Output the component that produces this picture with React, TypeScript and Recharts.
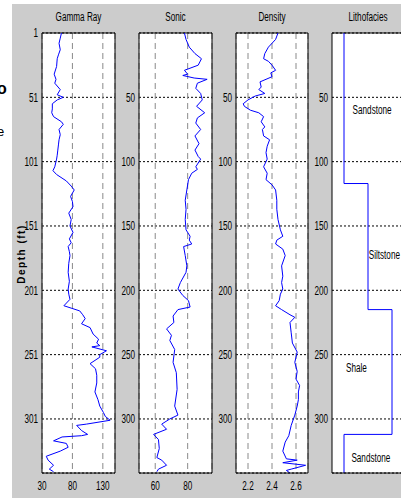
import React from 'react';
import { LineChart, Line, XAxis, YAxis, CartesianGrid, ReferenceLine, ReferenceDot } from 'recharts';

// [depth (ft), value]
const gammaRay: [number, number][] = [
  [1, 62], [5, 60], [9, 58], [14, 60], [18, 57], [21, 55], [27, 54], [33, 50], [37, 53], [40, 51],
  [45, 60], [49, 55], [51, 65], [53, 55], [56, 47], [60, 47], [63, 46], [66, 49], [70, 62], [72, 65],
  [76, 58], [80, 60], [84, 58], [88, 57], [92, 56], [96, 55], [99, 54], [105, 51], [108, 48], [111, 54],
  [116, 70], [120, 78], [123, 83], [128, 77], [132, 80], [136, 81], [141, 74], [146, 78], [151, 76], [156, 81],
  [161, 75], [164, 78], [167, 73], [171, 75], [174, 76], [180, 74], [187, 73], [194, 75], [200, 73], [204, 74],
  [208, 76], [213, 66], [215, 79], [217, 92], [220, 97], [223, 101], [227, 95], [230, 109], [235, 114], [239, 123],
  [242, 120], [244, 125], [245, 112], [248, 136], [251, 125], [253, 125], [258, 109], [262, 118], [267, 120], [273, 120],
  [280, 117], [286, 122], [291, 125], [296, 131], [299, 134], [302, 142], [305, 103], [306, 87], [310, 95], [313, 105],
  [314, 95], [315, 63], [318, 49], [320, 70], [323, 73], [326, 60], [330, 37], [333, 40], [337, 49], [340, 42], [342, 49],
];

const sonic: [number, number][] = [
  [0, 78], [5, 79], [11, 81], [16, 84.5], [20, 88.5], [25, 86.5], [29, 78], [32, 80], [33, 77], [35, 84],
  [36, 92], [39, 86], [43, 85], [47, 88], [52, 89], [57, 85.5], [62, 90.5], [66, 86], [70, 85], [75, 88],
  [80, 84.5], [86, 87], [91, 84.5], [96, 86.5], [98, 88], [104, 85], [106, 86], [109, 82.5], [114, 80.5], [122, 79.5],
  [130, 78.5], [137, 79], [145, 78.5], [153, 79], [158, 81.5], [161, 81], [164, 82.5], [166, 77.5], [173, 78.5], [181, 79.5],
  [186, 79], [194, 75.5], [199, 74], [204, 77], [208, 80.5], [213, 81.5], [215, 74], [220, 71], [225, 71.5], [230, 67],
  [235, 70], [239, 69], [246, 72], [256, 71], [264, 73], [277, 73.5], [290, 72], [297, 74], [300, 69], [304, 64],
  [308, 67], [312, 59], [316, 62], [323, 62.5], [330, 61], [332, 64], [336, 67], [339, 62], [341, 61],
];

const density: [number, number][] = [
  [0, 2.45], [5, 2.43], [11, 2.37], [16, 2.34], [20, 2.33], [22, 2.37], [25, 2.4], [29, 2.43], [31, 2.39], [34, 2.4],
  [38, 2.3], [42, 2.31], [44, 2.29], [47, 2.34], [49, 2.26], [52, 2.2], [55, 2.16], [57, 2.17], [60, 2.22], [62, 2.29],
  [65, 2.33], [69, 2.31], [73, 2.34], [75, 2.32], [80, 2.33], [83, 2.38], [88, 2.36], [93, 2.35], [98, 2.36], [104, 2.33],
  [109, 2.36], [114, 2.35], [118, 2.4], [122, 2.43], [130, 2.44], [137, 2.44], [145, 2.45], [153, 2.47], [158, 2.49], [161, 2.44],
  [164, 2.43], [168, 2.49], [173, 2.51], [181, 2.48], [189, 2.49], [194, 2.48], [199, 2.49], [203, 2.47], [208, 2.46], [212, 2.43],
  [215, 2.48], [219, 2.55], [221, 2.59], [225, 2.55], [233, 2.56], [241, 2.57], [248, 2.61], [256, 2.59], [263, 2.61], [269, 2.6],
  [274, 2.63], [279, 2.62], [285, 2.62], [290, 2.61], [297, 2.59], [305, 2.56], [313, 2.54], [318, 2.51], [325, 2.49], [331, 2.52],
  [332, 2.61], [334, 2.49], [336, 2.68], [339, 2.56], [340, 2.52], [342, 2.55],
];

const lithofacies: [number, number][] = [
  [0, 1], [117, 1], [117, 2], [215, 2], [215, 3], [312, 3], [312, 1], [342, 1],
];

const faciesNames = ['Sandstone', 'Siltstone', 'Shale', 'Sandstone'];
const faciesDepths = [60, 172, 260, 330];
const faciesCodes = [2.17, 2.68, 1.52, 2.12];

const gammaDepthTicks = [1, 51, 101, 151, 201, 251, 301];
const depthTicks = [50, 100, 150, 200, 250, 300];
const gammaTicks = [30, 80, 130];
const sonicTicks = [60, 80];
const densityTicks = [2.2, 2.4, 2.6];

const FONT = "'Liberation Sans', Arial, sans-serif";
const SQUEEZE = 0.68;

function NarrowText({ x, y, anchor, dy, children }: { x: number; y: number; anchor: string; dy: string; children: React.ReactNode }) {
  return (
    <text
      x={0}
      y={0}
      dy={dy}
      transform={`translate(${x},${y}) scale(${SQUEEZE},1)`}
      textAnchor={anchor as any}
      fill="#000"
      fontSize={12}
      fontFamily={FONT}
    >
      {children}
    </text>
  );
}

const YTick = (props: any) => (
  <NarrowText x={props.x} y={props.y} anchor="end" dy="0.355em">{props.payload.value}</NarrowText>
);
const XTick = (props: any) => (
  <NarrowText x={props.x} y={props.y} anchor="middle" dy="0.71em">{props.payload.value}</NarrowText>
);
const FaciesLabel = (name: string) => (props: any) => (
  <NarrowText x={props.cx} y={props.cy} anchor="middle" dy="0.355em">{name}</NarrowText>
);

type PanelProps = {
  left: number;
  width: number;
  yWidth: number;
  title: string;
  series: [number, number][];
  xDomain: [number, number];
  xTicks: number[];
  yDomain: [number, number];
  yTicks: number[];
  labels?: boolean;
};

function Panel({ left, width, yWidth, title, series, xDomain, xTicks, yDomain, yTicks, labels }: PanelProps) {
  const data = series.map(([depth, v]) => ({ depth, v }));
  const plotLeft = left + yWidth;
  const plotWidth = width - yWidth - 5;
  return (
    <>
      <div
        style={{
          position: 'absolute', left: plotLeft, top: 10, width: plotWidth, textAlign: 'center',
          fontFamily: FONT, fontSize: 12, lineHeight: '15px', color: '#000', whiteSpace: 'nowrap',
          transform: `scaleX(${SQUEEZE})`, transformOrigin: 'center',
        }}
      >
        {title}
      </div>
      <div style={{ position: 'absolute', left, top: 0 }}>
        <LineChart
          width={width}
          height={498}
          data={data}
          layout="vertical"
          margin={{ top: 33, right: 5, bottom: 0, left: 0 }}
        >
          <CartesianGrid fill="#fff" vertical={false} stroke="#000" strokeDasharray="2 2" />
          {xTicks.length > 0 && <CartesianGrid horizontal={false} stroke="#8a8a8a" strokeDasharray="6 4" />}
          <XAxis
            type="number"
            domain={xDomain}
            ticks={xTicks}
            allowDataOverflow
            interval={0}
            height={25}
            tickSize={0}
            tickMargin={8}
            tick={xTicks.length > 0 ? <XTick /> : false}
            axisLine={{ stroke: '#000' }}
          />
          <YAxis
            type="number"
            dataKey="depth"
            domain={yDomain}
            ticks={yTicks}
            allowDataOverflow
            interval={0}
            width={yWidth}
            tickSize={0}
            tickMargin={4}
            tick={<YTick />}
            axisLine={{ stroke: '#000' }}
          />
          <ReferenceLine y={yDomain[0]} stroke="#000" />
          <ReferenceLine x={xDomain[1]} stroke="#000" />
          <Line
            dataKey="v"
            type="linear"
            stroke="#0000ff"
            strokeWidth={1}
            dot={false}
            isAnimationActive={false}
          />
          {labels &&
            faciesNames.map((name, i) => (
              <ReferenceDot
                key={i}
                x={faciesCodes[i]}
                y={faciesDepths[i]}
                r={1}
                shape={FaciesLabel(name)}
              />
            ))}
        </LineChart>
      </div>
    </>
  );
}

export default function App() {
  return (
    <div
      style={{
        position: 'fixed', left: 0, top: 0, width: 401, height: 498, overflow: 'hidden', background: '#fff',
      }}
    >
      <span style={{ position: 'absolute', left: -3, top: 80, fontSize: 16, fontWeight: 'bold', fontFamily: FONT }}>o</span>
      <span style={{ position: 'absolute', left: -3, top: 124, fontSize: 13, fontFamily: FONT }}>e</span>
      <div style={{ position: 'absolute', left: 12, top: 4, width: 389, height: 494, background: '#cccccc' }} />
      <div
        style={{
          position: 'absolute', left: 21, top: 254, transform: 'translate(-50%, -50%) rotate(-90deg)',
          whiteSpace: 'nowrap', fontWeight: 'bold', fontSize: 10, letterSpacing: 1.5,
          fontFamily: FONT, color: '#000',
        }}
      >
        Depth (ft)
      </div>
      <Panel left={0} width={120} yWidth={42} title="Gamma Ray" series={gammaRay}
        xDomain={[30, 150]} xTicks={gammaTicks} yDomain={[1, 343]} yTicks={gammaDepthTicks} />
      <Panel left={115} width={102} yWidth={24} title="Sonic" series={sonic}
        xDomain={[50, 95]} xTicks={sonicTicks} yDomain={[0, 342]} yTicks={depthTicks} />
      <Panel left={212} width={101} yWidth={24} title="Density" series={density}
        xDomain={[2.1, 2.7]} xTicks={densityTicks} yDomain={[0, 342]} yTicks={depthTicks} />
      <Panel left={308} width={101} yWidth={24} title="Lithofacies" series={lithofacies}
        xDomain={[0.5, 3.5]} xTicks={[]} yDomain={[0, 342]} yTicks={depthTicks} labels />
    </div>
  );
}
